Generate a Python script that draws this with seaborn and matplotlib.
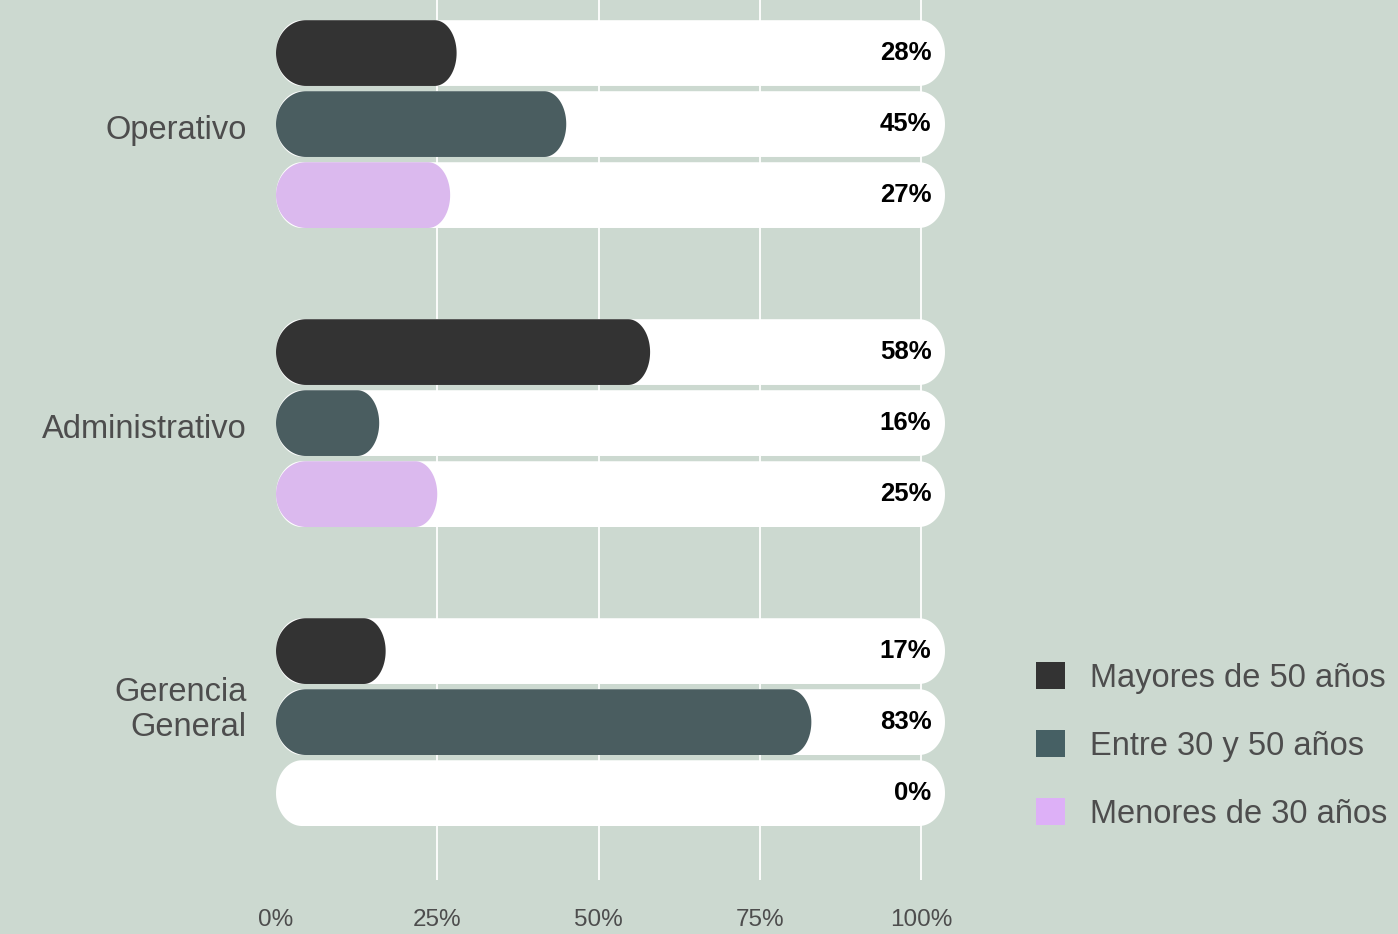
import numpy as np
import pandas as pd
import matplotlib
matplotlib.use("Agg")
import matplotlib.pyplot as plt
import seaborn as sns
from matplotlib.patches import Polygon, Patch
from matplotlib.transforms import ScaledTranslation

# datos
areas = ["Operativo", "Administrativo", "Gerencia\nGeneral"]
grupos = ["Mayores de 50 años", "Entre 30 y 50 años", "Menores de 30 años"]
mayores_50 = [28, 58, 17]
entre_30_50 = [45, 16, 83]
menores_30 = [27, 25, 0]
ticks = [0, 25, 50, 75, 100]
tick_labels = ["0%", "25%", "50%", "75%", "100%"]

colores = ["#333333", "#466064", "#DDB0F7"]
fondo = "#CCD9D0"
gris = "#4D4D4D"

df = pd.DataFrame({
    "area": areas * 3,
    "grupo": np.repeat(grupos, len(areas)),
    "valor": mayores_50 + entre_30_50 + menores_30,
})
df["pista"] = 100

sns.set_style("white")
plt.rcParams["font.family"] = ["Liberation Sans", "DejaVu Sans"]

fig = plt.figure(figsize=(13.98, 9.34), dpi=100, facecolor=fondo)
ax = fig.add_axes([276 / 1398, 54 / 934, 684 / 1398, 880 / 934])
ax.set_facecolor(fondo)

# pistas blancas y barras de valor
sns.barplot(data=df, y="area", x="pista", hue="grupo", palette=["white"] * 3,
            width=0.7125, gap=0.074, errorbar=None, legend=False, ax=ax, orient="h")
sns.barplot(data=df, y="area", x="valor", hue="grupo", palette=colores,
            width=0.7125, gap=0.074, errorbar=None, legend=False, ax=ax, orient="h")

ax.set_xlim(0, 684 / 6.45)
ax.set_ylim(2.528, -0.415)

p0 = ax.transData.transform((0, 0))
px_x = ax.transData.transform((1, 0))[0] - p0[0]
extra = 24 / px_x


def capsula(x, y, w, h, rx_izq, rx_der):
    # barra con extremos semielípticos
    rx_izq = min(rx_izq, w / 2)
    rx_der = min(rx_der, w / 2)
    yc, ry = y + h / 2, h / 2
    t = np.linspace(-np.pi / 2, np.pi / 2, 60)
    der = np.column_stack([x + w - rx_der + rx_der * np.cos(t), yc + ry * np.sin(t)])
    izq = np.column_stack([x + rx_izq - rx_izq * np.cos(t), yc - ry * np.sin(t)])
    return np.vstack([der, izq])


# etiquetas de valor
for cont in ax.containers[3:]:
    for barra, v in zip(cont, cont.datavalues):
        yc = barra.get_y() + barra.get_height() / 2
        ax.text(101.6, yc, f"{v:.0f}%", ha="right", va="center",
                fontsize=18.5, fontweight="bold", color="black", zorder=5)

n_pistas = len(ax.containers[0]) * 3
rects = list(ax.patches)
for i, r in enumerate(rects):
    x, y, w, h = r.get_x(), r.get_y(), r.get_width(), r.get_height()
    fc = r.get_facecolor()
    r.remove()
    if w <= 0:
        continue
    if i < n_pistas:
        forma = capsula(x, y, w + extra, h, 26 / px_x, 26 / px_x)
        z = 2
    else:
        forma = capsula(x, y, w, h, 30 / px_x, 22 / px_x)
        z = 3
    ax.add_patch(Polygon(forma, closed=True, facecolor=fc, edgecolor="none", zorder=z))

# líneas de cuadrícula
ax.vlines(ticks[1:], 2.528, -0.415, colors="white", linewidth=1.3, zorder=0)

ax.set_xticks(ticks, tick_labels)
ax.tick_params(axis="x", length=0, pad=21, labelsize=17.5, labelcolor=gris)
ax.tick_params(axis="y", length=0, pad=21, labelsize=23.5, labelcolor=gris)
ax.set_xlabel("")
ax.set_ylabel("")
for s in ax.spines.values():
    s.set_visible(False)

# ajuste vertical de las etiquetas de área, como en el original
for lab in ax.get_yticklabels():
    subir = 18 if "\n" in lab.get_text() else -3
    lab.set_transform(lab.get_transform() + ScaledTranslation(0, subir / 100, fig.dpi_scale_trans))

manejadores = [Patch(facecolor=c, edgecolor="none", label=g) for c, g in zip(colores, grupos)]
fig.legend(handles=manejadores, loc="center left", bbox_to_anchor=(1036 / 1398, 1 - 746 / 934),
           frameon=False, fontsize=23.5, labelcolor=gris, handlelength=0.9, handleheight=0.9,
           handletextpad=0.75, labelspacing=1.1, borderpad=0, borderaxespad=0)

fig.savefig("out.png", dpi=100, facecolor=fondo)
